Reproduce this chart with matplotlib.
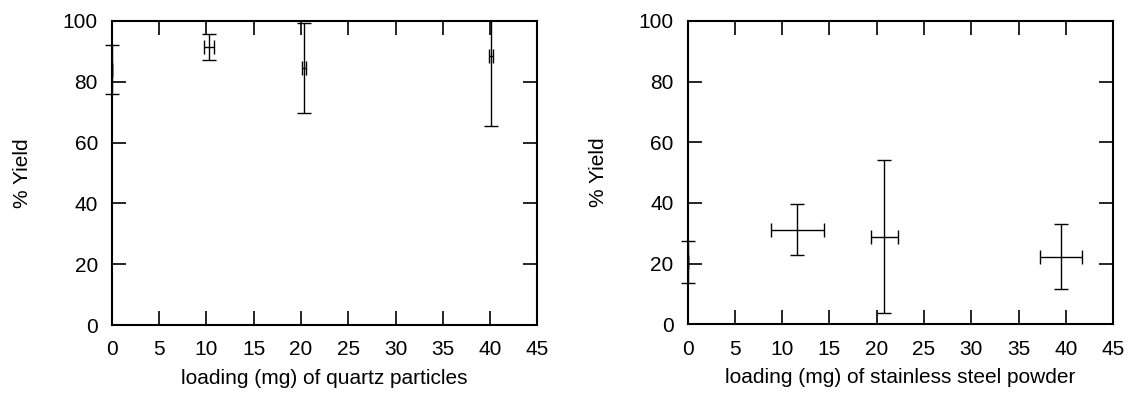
import matplotlib.pyplot as plt

plt.rcParams['font.family'] = ['Liberation Sans', 'DejaVu Sans']
plt.rcParams['font.size'] = 15

# quartz particles
quartz_x = [0, 10.3, 20.3, 40.1]
quartz_xerr = [0, 0.5, 0.2, 0.2]
quartz_y = [84.0, 91.4, 84.4, 88.6]
quartz_yerr = [8.2, 4.3, 14.8, 23.1]

# stainless steel powder
steel_x = [0, 11.6, 20.8, 39.5]
steel_xerr = [0, 2.8, 1.4, 2.2]
steel_y = [20.5, 31.2, 28.9, 22.3]
steel_yerr = [6.9, 8.4, 25.3, 10.8]

xticks = list(range(0, 50, 5))
yticks = list(range(0, 120, 20))

fig = plt.figure(figsize=(11.29, 3.94), dpi=100)
ax1 = fig.add_axes([0.099, 0.175, 0.377, 0.772])
ax2 = fig.add_axes([0.609, 0.177, 0.377, 0.770])

def panel(ax, x, xerr, y, yerr, xlabel):
    eb = ax.errorbar(x, y, xerr=xerr, yerr=yerr, fmt='none', ecolor='black',
                     elinewidth=1.0, capsize=5, capthick=1.0)
    # gnuplot-style: bars not clipped at the axis
    for art in eb.lines[1] + eb.lines[2]:
        art.set_clip_on(False)
    eb.lines[2][1].set_clip_on(True)
    ax.set_xlim(0, 45)
    ax.set_ylim(0, 100)
    ax.set_xticks(xticks)
    ax.set_yticks(yticks)
    ax.tick_params(direction='in', length=10, width=1.2, top=True, right=True)
    ax.tick_params(axis='x', pad=11)
    ax.tick_params(axis='y', pad=10)
    for s in ax.spines.values():
        s.set_linewidth(1.5)
    ax.set_xlabel(xlabel, labelpad=7)
    ax.set_ylabel('% Yield', labelpad=22)

panel(ax1, quartz_x, quartz_xerr, quartz_y, quartz_yerr, 'loading (mg) of quartz particles')
panel(ax2, steel_x, steel_xerr, steel_y, steel_yerr, 'loading (mg) of stainless steel powder')

fig.savefig('out.png', dpi=100)
